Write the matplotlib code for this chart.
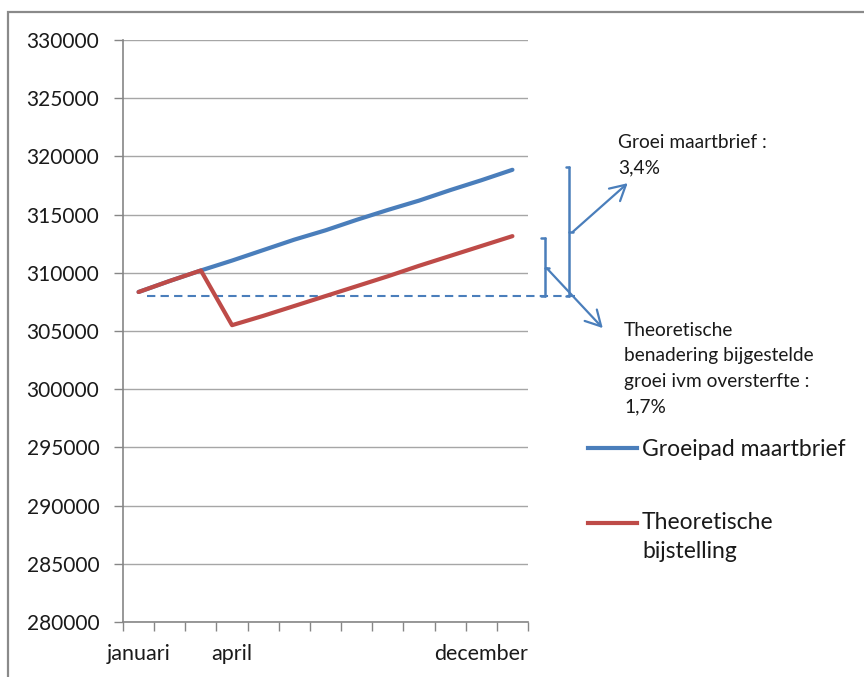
import matplotlib
matplotlib.use("Agg")
import matplotlib.pyplot as plt
from matplotlib.patches import Rectangle
from matplotlib.lines import Line2D

plt.rcParams['font.family'] = ['Lato', 'DejaVu Sans']

# ---- data ----
categories = ['januari', '', '', 'april', '', '', '', '', '', '', '', 'december', '']
groeipad = [308350, 309300, 310200, 311050, 311950, 312850, 313650, 314550,
            315400, 316200, 317100, 317950, 318850]
bijstelling = [308350, 309300, 310200, 305500, 306300, 307150, 308000, 308850,
               309700, 310600, 311450, 312300, 313150]
baseline_value = 308000
yticks = [280000, 285000, 290000, 295000, 300000, 305000, 310000, 315000,
          320000, 325000, 330000]
label_groeipad = 'Groeipad maartbrief'
label_bijstelling = 'Theoretische\nbijstelling'
text_groei = 'Groei maartbrief :\n3,4%'
text_theor = 'Theoretische\nbenadering bijgestelde\ngroei ivm oversterfte :\n1,7%'

BLUE = '#4A7EBB'
RED = '#BE4B48'
GRID = '#A6A6A6'
AX = '#868686'
TXT = '#1a1a1a'
W, H = 864, 677

fig = plt.figure(figsize=(W / 100, H / 100), dpi=100)
ax = fig.add_axes([123 / W, 55 / H, 405 / W, 582 / H])

x = list(range(len(categories)))
ax.plot(x, groeipad, color=BLUE, lw=3, solid_capstyle='round', zorder=3)
ax.plot(x, bijstelling, color=RED, lw=3, solid_capstyle='round', zorder=4)

ax.set_xlim(-0.5, len(categories) - 0.5)
ax.set_ylim(yticks[0], yticks[-1])
ax.set_yticks(yticks)
ax.set_yticklabels([str(v) for v in yticks])
ax.yaxis.grid(True, color=GRID, lw=1)
ax.set_axisbelow(True)

ax.set_xticks([i - 0.5 for i in range(len(categories) + 1)])
ax.set_xticklabels([])
ax.set_xticks(x, minor=True)
ax.set_xticklabels(categories, minor=True)
ax.tick_params(axis='x', which='major', length=6.5, color=AX, width=1)
ax.tick_params(axis='x', which='minor', length=0, pad=16, labelsize=15.5, labelcolor=TXT)
ax.tick_params(axis='y', length=6.5, color=AX, width=1, pad=10.5, labelsize=15, labelcolor=TXT)

for s in ['top', 'right']:
    ax.spines[s].set_visible(False)
for s in ['left', 'bottom']:
    ax.spines[s].set_color(AX)
    ax.spines[s].set_linewidth(1.2)

# ---- annotations (data coordinates, outside the plot area) ----
ax.plot([0.27, 14.0], [baseline_value, baseline_value], color=BLUE, lw=1.5,
        dashes=(4, 2.5), clip_on=False, zorder=2)

def bracket(xb, y0, y1, ym):
    h = 0.13
    kw = dict(color=BLUE, lw=1.8, clip_on=False, solid_capstyle='round')
    ax.plot([xb, xb], [y0, y1], **kw)
    ax.plot([xb - h * 0.8, xb], [y1, y1], **kw)
    ax.plot([xb - h * 0.8, xb], [y0, y0], **kw)
    ax.plot([xb, xb + h], [ym, ym], **kw)

bracket(13.81, baseline_value, groeipad[-1] + 250, 313500)
bracket(13.03, baseline_value, bijstelling[-1] - 150, 310400)

arrow_kw = dict(arrowstyle='->,head_length=0.55,head_width=0.3', color=BLUE, lw=1.6,
                shrinkA=0, shrinkB=0, mutation_scale=20)
ax.annotate('', xy=(15.70, 317700), xytext=(13.93, 313500), xycoords='data',
            arrowprops=arrow_kw, annotation_clip=False)
ax.annotate('', xy=(14.90, 305250), xytext=(13.10, 310400), xycoords='data',
            arrowprops=arrow_kw, annotation_clip=False)

# va='baseline' on multi-line text aligns the last line's baseline
fig.text(618 / W, 1 - 173 / H, text_groei, fontsize=13.8, va='baseline', ha='left',
         linespacing=1.6, color=TXT)
fig.text(624 / W, 1 - 412 / H, text_theor, fontsize=13.8, va='baseline', ha='left',
         linespacing=1.6, color=TXT)

# ---- legend ----
fig.add_artist(Line2D([588 / W, 637 / W], [1 - 448 / H, 1 - 448 / H], color=BLUE, lw=3,
                      transform=fig.transFigure))
fig.add_artist(Line2D([588 / W, 637 / W], [1 - 523 / H, 1 - 523 / H], color=RED, lw=3,
                      transform=fig.transFigure))
fig.text(642 / W, 1 - 456 / H, label_groeipad, fontsize=16.5, va='baseline', ha='left',
         color=TXT)
fig.text(642 / W, 1 - 558 / H, label_bijstelling, fontsize=16.5, va='baseline', ha='left',
         linespacing=1.45, color=TXT)

# ---- outer frame ----
fig.patches.append(Rectangle((8 / W, -0.1), 1.2, 1 - 12 / H + 0.1, transform=fig.transFigure,
                             fill=False, ec='#8a8a8a', lw=1.6))

fig.savefig('out.png', dpi=100)
